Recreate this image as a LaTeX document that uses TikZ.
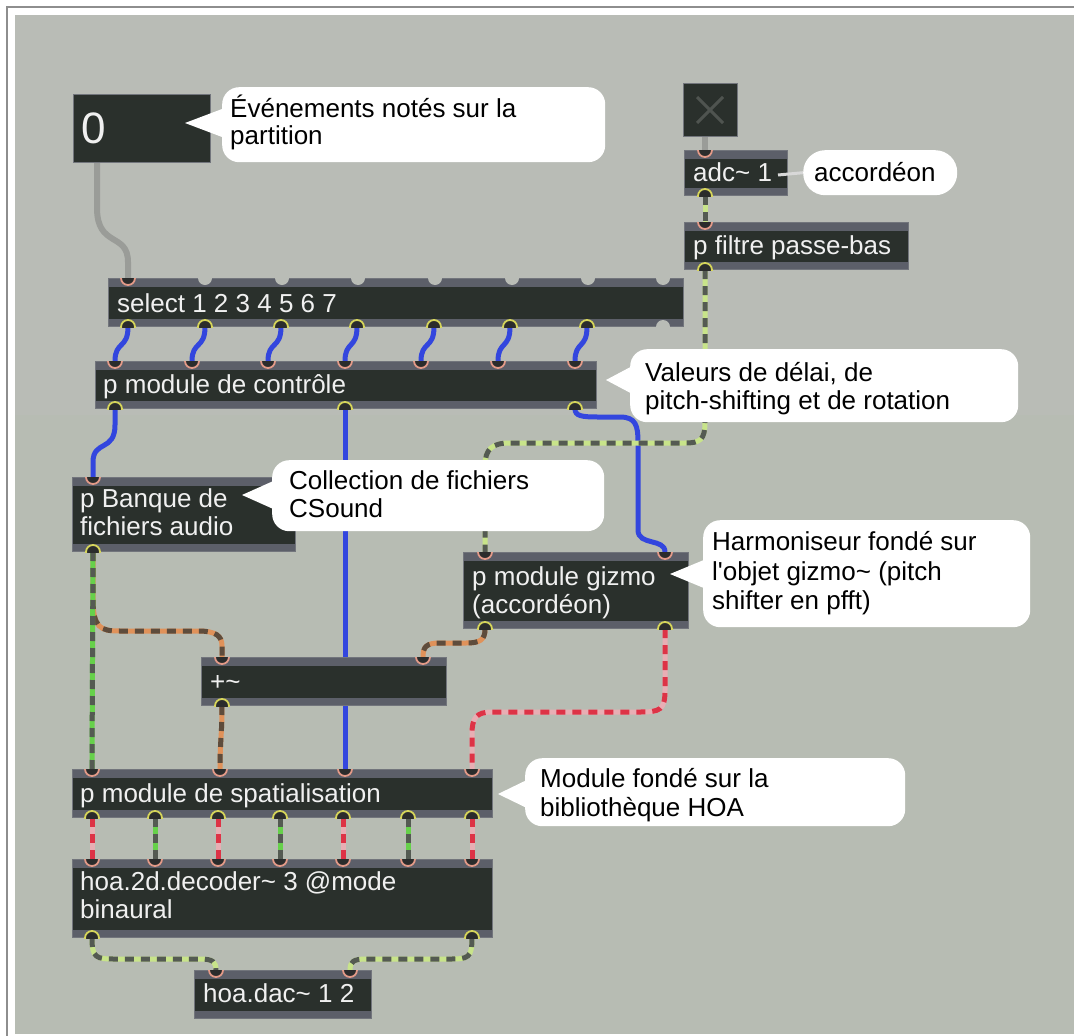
\documentclass[tikz,border=0pt]{standalone}
\usepackage{fontspec}
\setmainfont{Liberation Sans}
\newfontfamily\rawfont{Liberation Sans}
\definecolor{cvs}{HTML}{B9BCB6}
\definecolor{cvsb}{HTML}{B7BCB3}
\definecolor{framegray}{HTML}{8E8E8E}
\definecolor{boxbody}{HTML}{2A302C}
\definecolor{strip}{HTML}{5C5F69}
\definecolor{boxedge}{HTML}{72757C}
\definecolor{salmon}{HTML}{E39A88}
\definecolor{yport}{HTML}{D6D55A}
\definecolor{portdark}{HTML}{2B2C2C}
\definecolor{bluecord}{HTML}{3346DE}
\definecolor{graycord}{HTML}{9A9C98}
\definecolor{sigdark}{HTML}{545A52}
\definecolor{siglight}{HTML}{C8E48A}
\definecolor{sggreen}{HTML}{66D14A}
\definecolor{sgorange}{HTML}{E0925A}
\definecolor{sgbrown}{HTML}{5E4C3C}
\definecolor{sgpink}{HTML}{E8AEB4}
\definecolor{sgred}{HTML}{DD3346}
\definecolor{toggx}{HTML}{4F5450}
\definecolor{textwhite}{HTML}{F0F0F0}
\definecolor{pointerline}{HTML}{D8D8D8}
\pgfdeclarelayer{bgl}
\pgfdeclarelayer{cordl}
\pgfsetlayers{bgl,cordl,main}
\tikzset{
 maxbox/.style={draw=boxedge, line width=1pt, fill=boxbody, inner sep=0pt, anchor=north west,
   path picture={\fill[strip] (path picture bounding box.north west) rectangle ([yshift=-8pt]path picture bounding box.north east);
                 \fill[strip] (path picture bounding box.south west) rectangle ([yshift=8pt]path picture bounding box.south east);}},
 plainbox/.style={draw=boxedge, line width=1pt, fill=boxbody, inner sep=0pt, anchor=north west},
 btext/.style={text=textwhite, font=\fontsize{26}{28}\selectfont, inner sep=0pt, anchor=base west},
 ctext/.style={text=black, font=\fontsize{26}{28}\selectfont, inner sep=0pt, anchor=base west},
 bubblebox/.style={fill=white, rounded corners=17pt, inner sep=0pt, anchor=north west},
 inport/.style={fill=portdark, draw=salmon, line width=1.8pt},
 outport/.style={fill=portdark, draw=yport, line width=1.8pt},
 freeport/.style={fill=cvs},
 ctlcord/.style={draw=bluecord, line width=5pt},
 msgcord/.style={draw=graycord, line width=6pt},
 sig/.style 2 args={draw=#1, line width=5pt, postaction={draw=#2, line width=5pt, dash pattern=on 9pt off 7pt}},
}
\newcommand{\maxobj}[5]{\node[maxbox, minimum width=#4pt, minimum height=#5pt] (#1) at (#2,#3) {};}
\newcommand{\inl}[3]{%
  \coordinate (#1-i#2) at (#3,0 |- #1.north);
  \begin{scope}\clip (#1.north west) rectangle (#1.south east);
  \filldraw[inport] (#1-i#2) circle[radius=7pt];\end{scope}}
\newcommand{\outl}[3]{%
  \coordinate (#1-o#2) at (#3,0 |- #1.south);
  \begin{scope}\clip (#1.north west) rectangle (#1.south east);
  \filldraw[outport] (#1-o#2) circle[radius=7pt];\end{scope}}
\newcommand{\freetop}[2]{%
  \begin{scope}\clip (#1.north west) rectangle (#1.south east);
  \fill[freeport] (#2,0 |- #1.north) circle[radius=7pt];\end{scope}}
\newcommand{\freebot}[2]{%
  \begin{scope}\clip (#1.north west) rectangle (#1.south east);
  \fill[freeport] (#2,0 |- #1.south) circle[radius=7pt];\end{scope}}
\newcommand{\btxt}[4]{\node[btext] (#1) at (#2,#3) {#4};}
\newcommand{\ctxt}[4]{\node[ctext] (#1) at (#2,#3) {#4};}
\newcommand{\bubble}[7]{%
  \node[bubblebox, minimum width=#4pt, minimum height=#5pt] (#1) at (#2,#3) {};
  \fill[white] (#6,#7) -- ({#2+8},{#7-17}) -- ({#2+8},{#7+17}) -- cycle;}
\begin{document}
\begin{tikzpicture}[x=1pt,y=-1pt]
\useasboundingbox (0,0) rectangle (1074,1036);
\begin{pgfonlayer}{bgl}
\fill[white] (0,0) rectangle (1074,1036);
\draw[framegray, line width=1.5pt] (7,1036) -- (7,7) -- (1074,7);
\fill[cvs] (15,15) rectangle (1074,1034);
\fill[cvsb] (15,415) rectangle (1074,1034);
\end{pgfonlayer}

% number box and toggle
\node[plainbox, minimum width=137pt, minimum height=68pt] (num) at (73,94) {};
\node[btext, font=\fontsize{44}{46}\selectfont] (numtxt) at (81,143) {0};
\coordinate (num-o1) at (97,0 |- num.south);
\node[plainbox, minimum width=54pt, minimum height=53pt] (tog) at (683,83) {};
\draw[toggx, line width=3pt] (697,97) -- (723,123) (723,97) -- (697,123);
\coordinate (tog-o1) at (705,0 |- tog.south);

% objects
\maxobj{adc}{684}{150}{103}{45}
\btxt{adctxt}{693}{181}{adc\textasciitilde{} 1}
\inl{adc}{1}{705}\outl{adc}{1}{705}

\maxobj{filt}{684}{222}{224}{47}
\btxt{filttxt}{693}{254}{p filtre passe-bas}
\inl{filt}{1}{705}\outl{filt}{1}{705}

\maxobj{sel}{108}{278}{575}{48}
\btxt{seltxt}{117}{312}{select 1 2 3 4 5 6 7}
\inl{sel}{1}{128}
\foreach \x in {205,282,358,435,512,588,663} {\freetop{sel}{\x}}
\foreach \i/\x in {1/128,2/205,3/281,4/357,5/434,6/510,7/587} {\outl{sel}{\i}{\x}}
\freebot{sel}{663}

\maxobj{ctl}{95}{361}{501}{47}
\btxt{ctltxt}{103}{393}{p module de contrôle}
\foreach \i/\x in {1/115,2/192,3/268,4/345,5/421,6/498,7/575} {\inl{ctl}{\i}{\x}}
\foreach \i/\x in {1/115,2/345,3/575} {\outl{ctl}{\i}{\x}}

\maxobj{bank}{72}{477}{223}{74}
\btxt{banktxta}{80}{507}{p Banque de}
\btxt{banktxtb}{80}{535}{fichiers audio}
\inl{bank}{1}{93}\outl{bank}{1}{93}

\maxobj{gizmo}{463}{552}{225}{76}
\btxt{gizmotxta}{472}{585}{p module gizmo}
\btxt{gizmotxtb}{472}{613}{(accordéon)}
\inl{gizmo}{1}{485}\inl{gizmo}{2}{665}
\outl{gizmo}{1}{485}\outl{gizmo}{2}{665}

\maxobj{plus}{201}{657}{245}{48}
\btxt{plustxt}{210}{690}{+\textasciitilde}
\inl{plus}{1}{222}\inl{plus}{2}{423}
\outl{plus}{1}{222}

\maxobj{spat}{72}{769}{420}{48}
\btxt{spattxt}{80}{802}{p module de spatialisation}
\foreach \i/\x in {1/92,2/220,3/345,4/472} {\inl{spat}{\i}{\x}}
\foreach \i/\x in {1/92,2/155,3/218,4/280,5/343,6/408,7/472} {\outl{spat}{\i}{\x}}

\maxobj{hoa}{72}{859}{420}{78}
\btxt{hoatxta}{80}{890}{hoa.2d.decoder\textasciitilde{} 3 @mode}
\btxt{hoatxtb}{80}{918}{binaural}
\foreach \i/\x in {1/92,2/155,3/218,4/280,5/343,6/408,7/472} {\inl{hoa}{\i}{\x}}
\outl{hoa}{1}{92}\outl{hoa}{2}{472}

\maxobj{dac}{194}{970}{177}{48}
\btxt{dactxt}{203}{1002}{hoa.dac\textasciitilde{} 1 2}
\inl{dac}{1}{216}\inl{dac}{2}{350}

% cords
\begin{pgfonlayer}{cordl}
\draw[msgcord] (tog-o1) -- (adc-i1);
\draw[msgcord] (num-o1) -- (97,208) .. controls (97,248) and (128,232) .. (128,262) -- (sel-i1);
\foreach \i in {1,...,7} {\draw[ctlcord] (sel-o\i) .. controls +(0,22) and +(0,-20) .. (ctl-i\i);}
\draw[ctlcord] (ctl-o1) -- (115,425) .. controls (115,452) and (93,440) .. (93,462) -- (bank-i1);
\draw[ctlcord] (ctl-o2) -- (spat-i3);
\draw[ctlcord] (ctl-o3) .. controls (575,416) and (582,417) .. (598,417) -- (620,417) .. controls (636,417) and (638,426) .. (638,442) -- (638,530) .. controls (638,546) and (665,538) .. (gizmo-i2);
\draw[sig={siglight}{sigdark}] (adc-o1) -- (filt-i1);
\draw[sig={siglight}{sigdark}] (filt-o1) -- (705,422) .. controls (705,440) and (700,443) .. (685,443) -- (510,443) .. controls (492,443) and (485,449) .. (485,466) -- (gizmo-i1);
\draw[sig={sgorange}{sgbrown}] (bank-o1) -- (93,598) .. controls (93,628) and (100,631) .. (120,631) -- (198,631) .. controls (216,631) and (222,636) .. (222,646) -- (plus-i1);
\draw[sig={sggreen}{sigdark}] (bank-o1) -- (spat-i1);
\draw[sig={sgorange}{sgbrown}] (gizmo-o1) .. controls (485,640) and (480,643) .. (466,643) -- (440,643) .. controls (426,643) and (423,647) .. (plus-i2);
\draw[sig={sgorange}{sgbrown}] (plus-o1) .. controls (222,735) and (220,740) .. (spat-i2);
\draw[sig={sgpink}{sgred}] (gizmo-o2) -- (665,690) .. controls (665,710) and (660,712) .. (640,712) -- (492,712) .. controls (476,712) and (472,718) .. (472,734) -- (spat-i4);
\foreach \i in {1,3,5,7} {\draw[sig={sgpink}{sgred}] (spat-o\i) -- (hoa-i\i);}
\foreach \i in {2,4,6} {\draw[sig={sggreen}{sigdark}] (spat-o\i) -- (hoa-i\i);}
\draw[sig={siglight}{sigdark}] (hoa-o1) .. controls (92,958) and (96,959) .. (115,959) -- (200,959) .. controls (213,959) and (216,962) .. (dac-i1);
\draw[sig={siglight}{sigdark}] (hoa-o2) .. controls (472,958) and (468,959) .. (450,959) -- (366,959) .. controls (353,959) and (350,962) .. (dac-i2);
\end{pgfonlayer}

% comment bubbles
\bubble{evb}{222}{87}{383}{75}{185}{123}
\ctxt{evta}{230}{117}{Événements notés sur la}
\ctxt{evtb}{230}{144}{partition}

\node[bubblebox, rounded corners=22pt, minimum width=154pt, minimum height=45pt] (accb) at (803,150) {};
\ctxt{acct}{814}{181}{accordéon}
\coordinate (adc-r) at (778,175);
\draw[pointerline, line width=3pt] (adc-r) -- (accb.west);

\bubble{valb}{630}{349}{388}{73}{606}{380}
\ctxt{valta}{645}{381}{Valeurs de délai, de}
\ctxt{valtb}{645}{409}{pitch-shifting et de rotation}

\bubble{colb}{272}{460}{332}{71}{242}{495}
\ctxt{colta}{289}{489}{Collection de fichiers}
\ctxt{coltb}{289}{517}{CSound}

\bubble{harb}{703}{520}{327}{107}{670}{574}
\ctxt{harta}{712}{550}{Harmoniseur fondé sur}
\ctxt{hartb}{712}{580}{l{\rawfont\char"0027}objet gizmo\textasciitilde{} (pitch}
\ctxt{hartc}{712}{609}{shifter en pfft)}

\bubble{modb}{525}{758}{380}{68}{498}{794}
\ctxt{modta}{540}{787}{Module fondé sur la}
\ctxt{modtb}{540}{816}{bibliothèque HOA}
\end{tikzpicture}
\end{document}
